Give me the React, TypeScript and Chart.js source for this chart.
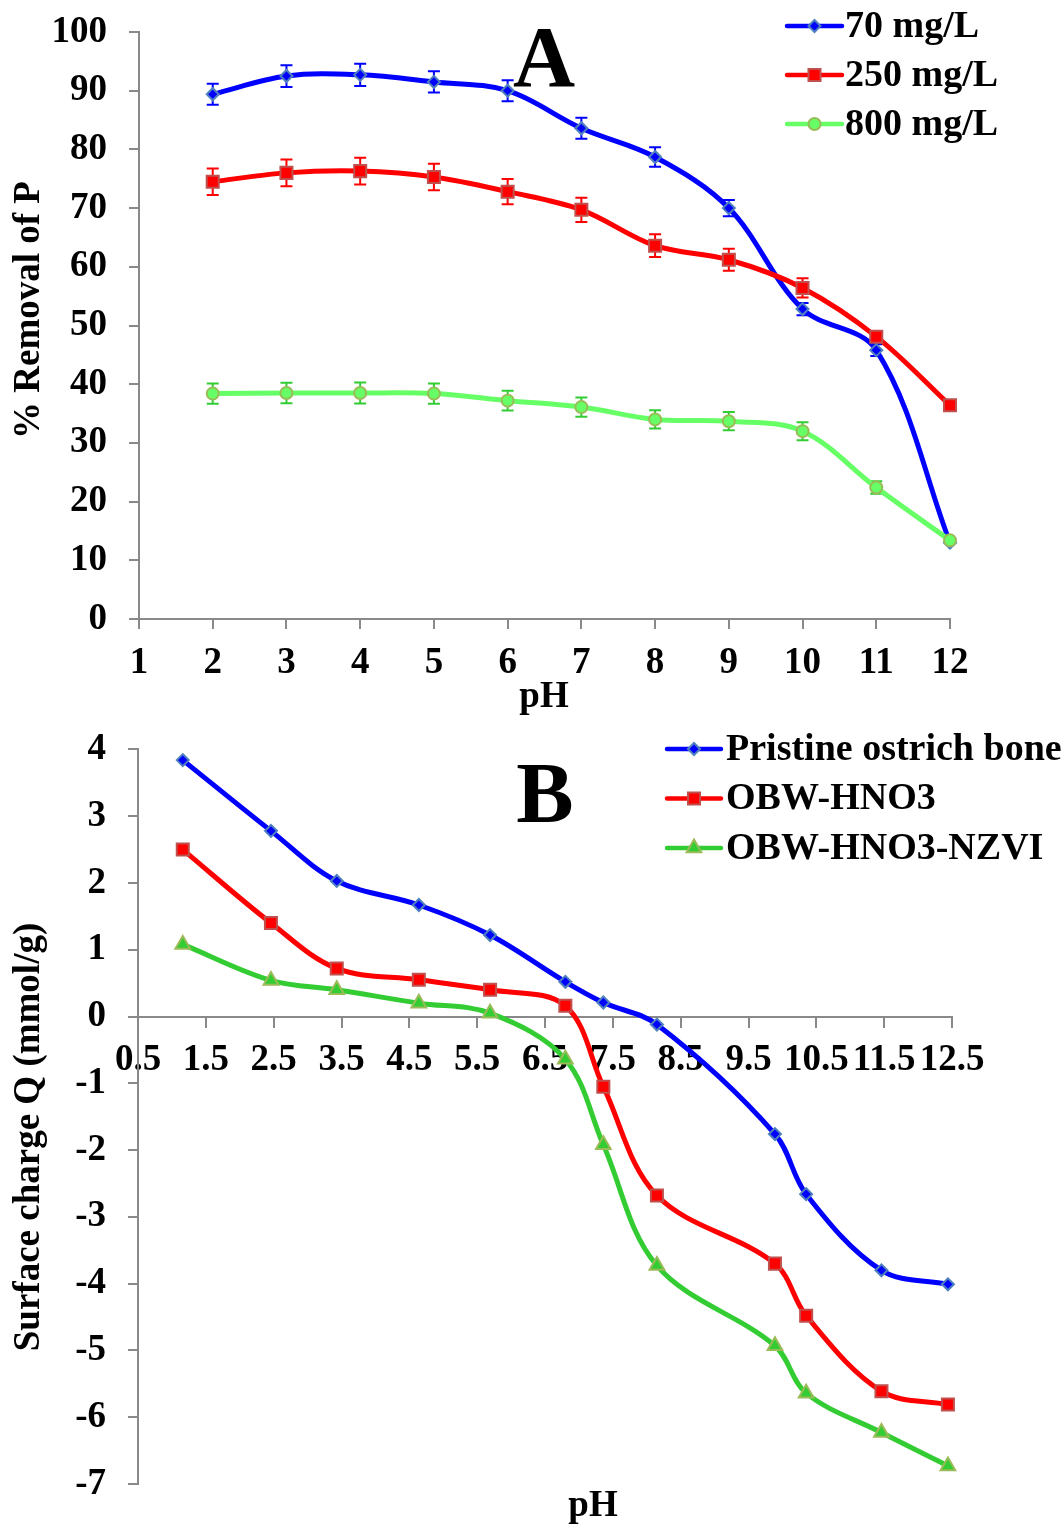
import { useEffect, useRef } from 'react';
import { Chart, registerables } from 'chart.js';

Chart.register(...registerables);

// ---------- Panel A data ----------
const phA = [2, 3, 4, 5, 6, 7, 8, 9, 10, 11, 12];
const seriesNamesA = ['70 mg/L', '250 mg/L', '800 mg/L'];
const removal70 = [89.4, 92.5, 92.7, 91.5, 90.0, 83.6, 78.7, 70.0, 52.8, 45.8, 13.0];
const removal250 = [74.5, 76.0, 76.3, 75.3, 72.8, 69.7, 63.6, 61.2, 56.4, 48.1, 36.4];
const removal800 = [38.4, 38.5, 38.5, 38.4, 37.2, 36.1, 34.0, 33.7, 32.0, 22.4, 13.4];
const err70 = [1.8, 1.85, 1.9, 1.8, 1.8, 1.8, 1.65, 1.4, 1.05, 1.0, 0];
const err250 = [2.25, 2.27, 2.27, 2.25, 2.15, 2.05, 1.93, 1.88, 1.65, 0.9, 0];
const err800 = [1.73, 1.73, 1.79, 1.73, 1.7, 1.65, 1.56, 1.56, 1.53, 1.05, 0];
const xTicksA = [1, 2, 3, 4, 5, 6, 7, 8, 9, 10, 11, 12];
const yTicksA = [0, 10, 20, 30, 40, 50, 60, 70, 80, 90, 100];

// ---------- Panel B data ----------
const phB = [1.16, 2.46, 3.43, 4.64, 5.69, 6.8, 7.36, 8.15, 9.89, 10.35, 11.46, 12.44];
const seriesNamesB = ['Pristine ostrich bone', 'OBW-HNO3', 'OBW-HNO3-NZVI'];
const chargePristine = [3.84, 2.78, 2.03, 1.67, 1.22, 0.52, 0.21, -0.12, -1.76, -2.66, -3.8, -4.01];
const chargeHNO3 = [2.5, 1.4, 0.72, 0.55, 0.4, 0.16, -1.05, -2.68, -3.7, -4.48, -5.61, -5.81];
const chargeNZVI = [1.08, 0.54, 0.4, 0.2, 0.05, -0.64, -1.92, -3.73, -4.93, -5.64, -6.23, -6.73];
const xTicksB = [0.5, 1.5, 2.5, 3.5, 4.5, 5.5, 6.5, 7.5, 8.5, 9.5, 10.5, 11.5, 12.5];
const yTicksB = [-7, -6, -5, -4, -3, -2, -1, 0, 1, 2, 3, 4];

const FAMILY = "'Liberation Serif', 'Times New Roman', serif";
const AXIS = '#898989';

function toPoints(xs: number[], ys: number[]) {
  return xs.map((x, i) => ({ x, y: ys[i] }));
}

function drawMarker(ctx: CanvasRenderingContext2D, style: string, x: number, y: number, r: number, fill: string, stroke: string, lw: number) {
  ctx.save();
  ctx.beginPath();
  if (style === 'rectRot') {
    ctx.moveTo(x - r, y);
    ctx.lineTo(x, y - r);
    ctx.lineTo(x + r, y);
    ctx.lineTo(x, y + r);
    ctx.closePath();
  } else if (style === 'rect') {
    const s = r * Math.SQRT1_2;
    ctx.rect(x - s, y - s, 2 * s, 2 * s);
  } else if (style === 'triangle') {
    ctx.moveTo(x, y - r);
    ctx.lineTo(x + 0.866 * r, y + 0.5 * r);
    ctx.lineTo(x - 0.866 * r, y + 0.5 * r);
    ctx.closePath();
  } else {
    ctx.arc(x, y, r, 0, Math.PI * 2);
  }
  ctx.fillStyle = fill;
  ctx.fill();
  ctx.lineWidth = lw;
  ctx.strokeStyle = stroke;
  ctx.stroke();
  ctx.restore();
}

function makeErrorPlugin(errors: number[][], colors: string[]) {
  return {
    id: 'errorBars',
    beforeDatasetsDraw(chart: any) {
      const ctx = chart.ctx as CanvasRenderingContext2D;
      const yScale = chart.scales.y;
      const cap = 6;
      chart.data.datasets.forEach((ds: any, i: number) => {
        const e = errors[i];
        if (!e) return;
        const meta = chart.getDatasetMeta(i);
        ctx.save();
        ctx.strokeStyle = colors[i];
        ctx.lineWidth = 2;
        meta.data.forEach((pt: any, j: number) => {
          const err = e[j];
          if (!err) return;
          const v = ds.data[j].y;
          const top = yScale.getPixelForValue(v + err);
          const bot = yScale.getPixelForValue(v - err);
          ctx.beginPath();
          ctx.moveTo(pt.x, top);
          ctx.lineTo(pt.x, bot);
          ctx.moveTo(pt.x - cap, top);
          ctx.lineTo(pt.x + cap, top);
          ctx.moveTo(pt.x - cap, bot);
          ctx.lineTo(pt.x + cap, bot);
          ctx.stroke();
        });
        ctx.restore();
      });
    },
  };
}

interface Decor {
  letter: string;
  letterX: number;
  letterBase: number;
  yTitle: string;
  yTitleX: number;
  yTitleY: number;
  xTitle: string;
  xTitleX: number;
  xTitleY: number;
  legX0: number;
  legX1: number;
  legTextX: number;
  legY0: number;
  legGap: number;
}

function makeDecorPlugin(d: Decor) {
  return {
    id: 'decor',
    afterDraw(chart: any) {
      const ctx = chart.ctx as CanvasRenderingContext2D;
      ctx.save();
      ctx.fillStyle = '#000';
      // panel letter
      ctx.font = `bold 86px ${FAMILY}`;
      ctx.textAlign = 'center';
      ctx.textBaseline = 'alphabetic';
      ctx.fillText(d.letter, d.letterX, d.letterBase);
      // axis titles
      ctx.font = `bold 37px ${FAMILY}`;
      ctx.textBaseline = 'middle';
      ctx.fillText(d.xTitle, d.xTitleX, d.xTitleY);
      ctx.save();
      ctx.translate(d.yTitleX, d.yTitleY);
      ctx.rotate(-Math.PI / 2);
      ctx.fillText(d.yTitle, 0, 0);
      ctx.restore();
      // legend
      chart.data.datasets.forEach((ds: any, i: number) => {
        const y = d.legY0 + i * d.legGap;
        ctx.save();
        ctx.strokeStyle = ds.borderColor;
        ctx.lineWidth = 4.5;
        ctx.lineCap = 'round';
        ctx.beginPath();
        ctx.moveTo(d.legX0, y);
        ctx.lineTo(d.legX1, y);
        ctx.stroke();
        ctx.restore();
        drawMarker(ctx, ds.pointStyle, (d.legX0 + d.legX1) / 2, y, ds.pointRadius, ds.pointBackgroundColor, ds.pointBorderColor, ds.pointBorderWidth);
        ctx.font = `bold 38px ${FAMILY}`;
        ctx.textAlign = 'left';
        ctx.textBaseline = 'middle';
        ctx.fillStyle = '#000';
        ctx.fillText(ds.label, d.legTextX, y + 1);
      });
      ctx.restore();
    },
  };
}

const xTickFont = { family: FAMILY, size: 37, weight: 'bold' as const, lineHeight: 1.2 };
// small lineHeight keeps Chart.js from adding extra top padding for vertical axis labels
const yTickFont = { family: FAMILY, size: 37, weight: 'bold' as const, lineHeight: 0.4 };

function axisBase() {
  return {
    grid: { drawOnChartArea: false, tickLength: 10, color: AXIS, lineWidth: 2 },
    border: { color: AXIS, width: 2 },
  };
}

function lineDataset(label: string, data: any[], color: string, style: string, radius: number, fill: string, border: string, order: number) {
  return {
    label,
    data,
    borderColor: color,
    backgroundColor: color,
    borderWidth: 5,
    tension: 0.35,
    pointStyle: style,
    pointRadius: radius,
    pointBackgroundColor: fill,
    pointBorderColor: border,
    pointBorderWidth: 2,
    clip: false,
    order,
  };
}

function buildA(): any {
  return {
    type: 'line',
    data: {
      datasets: [
        lineDataset(seriesNamesA[0], toPoints(phA, removal70), '#0000ff', 'rectRot', 6, '#0000ff', '#4f81bd', 3),
        lineDataset(seriesNamesA[1], toPoints(phA, removal250), '#ff0000', 'rect', 8.5, '#ff0000', '#c0504d', 2),
        lineDataset(seriesNamesA[2], toPoints(phA, removal800), '#66ff66', 'circle', 6, '#66ff66', '#9bbb59', 1),
      ],
    },
    options: {
      responsive: false,
      maintainAspectRatio: false,
      animation: false,
      layout: { padding: { top: 32, right: 111, left: 0, bottom: 0 } },
      plugins: { legend: { display: false }, tooltip: { enabled: false } },
      scales: {
        x: {
          type: 'linear',
          min: 1,
          max: 12,
          ...axisBase(),
          afterBuildTicks: (s: any) => { s.ticks = xTicksA.map((v) => ({ value: v })); },
          afterFit: (s: any) => { s.height = 101; },
          ticks: { font: xTickFont, color: '#000', padding: 12, autoSkip: false, maxRotation: 0, callback: (v: any) => String(v) },
        },
        y: {
          type: 'linear',
          min: 0,
          max: 100,
          ...axisBase(),
          afterBuildTicks: (s: any) => { s.ticks = yTicksA.map((v) => ({ value: v })); },
          afterFit: (s: any) => { s.width = 139; },
          ticks: { font: yTickFont, color: '#000', padding: 22, autoSkip: false, callback: (v: any) => String(v) },
        },
      },
    },
    plugins: [
      makeErrorPlugin([err70, err250, err800], ['#0000ff', '#ff0000', '#33cc33']),
      makeDecorPlugin({
        letter: 'A', letterX: 544, letterBase: 86,
        yTitle: '% Removal of P', yTitleX: 29, yTitleY: 310,
        xTitle: 'pH', xTitleX: 544, xTitleY: 697,
        legX0: 787, legX1: 842, legTextX: 845, legY0: 26, legGap: 49,
      }),
    ],
  };
}

function buildB(): any {
  return {
    type: 'line',
    data: {
      datasets: [
        lineDataset(seriesNamesB[0], toPoints(phB, chargePristine), '#0000ff', 'rectRot', 6, '#0000ff', '#4f81bd', 3),
        lineDataset(seriesNamesB[1], toPoints(phB, chargeHNO3), '#ff0000', 'rect', 8.5, '#ff0000', '#c0504d', 2),
        lineDataset(seriesNamesB[2], toPoints(phB, chargeNZVI), '#33cc33', 'triangle', 8.5, '#33cc33', '#9bbb59', 1),
      ],
    },
    options: {
      responsive: false,
      maintainAspectRatio: false,
      animation: false,
      layout: { padding: { top: 28, right: 109, left: 0, bottom: 43 } },
      plugins: { legend: { display: false }, tooltip: { enabled: false } },
      scales: {
        x: {
          type: 'linear',
          min: 0.5,
          max: 12.5,
          position: { y: 0 },
          ...axisBase(),
          afterBuildTicks: (s: any) => { s.ticks = xTicksB.map((v) => ({ value: v })); },
          ticks: { font: xTickFont, color: '#000', padding: 12, autoSkip: false, maxRotation: 0, callback: (v: any) => Number(v).toFixed(1) },
        },
        y: {
          type: 'linear',
          min: -7,
          max: 4,
          position: 'left',
          ...axisBase(),
          afterBuildTicks: (s: any) => { s.ticks = yTicksB.map((v) => ({ value: v })); },
          afterFit: (s: any) => { s.width = 138; },
          ticks: { font: yTickFont, color: '#000', padding: 22, autoSkip: false, callback: (v: any) => String(v) },
        },
      },
    },
    plugins: [
      makeDecorPlugin({
        letter: 'B', letterX: 545, letterBase: 102,
        yTitle: 'Surface charge Q (mmol/g)', yTitleX: 29, yTitleY: 417,
        xTitle: 'pH', xTitleX: 593, xTitleY: 786,
        legX0: 667, legX1: 721, legTextX: 726, legY0: 29, legGap: 49.5,
      }),
    ],
  };
}

export default function App() {
  const refA = useRef<HTMLCanvasElement>(null);
  const refB = useRef<HTMLCanvasElement>(null);

  useEffect(() => {
    const a = new Chart(refA.current as HTMLCanvasElement, buildA());
    const b = new Chart(refB.current as HTMLCanvasElement, buildB());
    return () => {
      a.destroy();
      b.destroy();
    };
  }, []);

  return (
    <div style={{ position: 'absolute', left: 0, top: 0, width: 1061, height: 1527, background: '#ffffff' }}>
      <canvas ref={refA} width={1061} height={720} style={{ position: 'absolute', left: 0, top: 0, width: 1061, height: 720 }} />
      <canvas ref={refB} width={1061} height={807} style={{ position: 'absolute', left: 0, top: 720, width: 1061, height: 807 }} />
    </div>
  );
}
